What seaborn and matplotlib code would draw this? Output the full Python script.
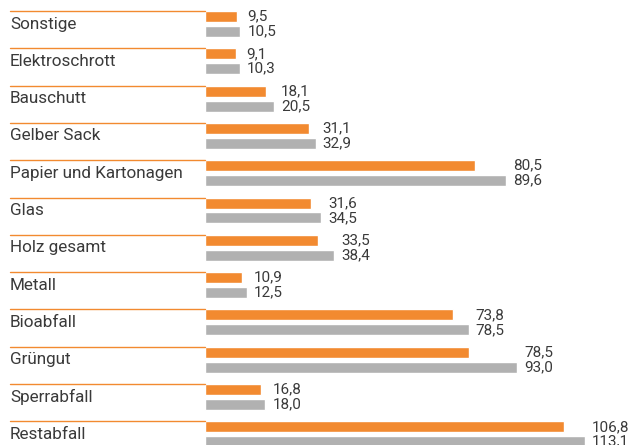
import matplotlib
matplotlib.use("Agg")
import matplotlib.pyplot as plt
import seaborn as sns
import pandas as pd

categories = ["Sonstige", "Elektroschrott", "Bauschutt", "Gelber Sack",
              "Papier und Kartonagen", "Glas", "Holz gesamt", "Metall",
              "Bioabfall", "Grüngut", "Sperrabfall", "Restabfall"]
values_orange = [9.5, 9.1, 18.1, 31.1, 80.5, 31.6, 33.5, 10.9, 73.8, 78.5, 16.8, 106.8]
values_gray = [10.5, 10.3, 20.5, 32.9, 89.6, 34.5, 38.4, 12.5, 78.5, 93.0, 18.0, 113.1]
series = ["Serie 1", "Serie 2"]
colors = ["#F28A30", "#B1B1B1"]

sns.set_theme(style="white")
plt.rcParams["font.family"] = ["Roboto", "DejaVu Sans"]
text_color = "#3a3a3a"

df = pd.DataFrame({
    "Kategorie": categories * 2,
    "Wert": values_orange + values_gray,
    "Serie": [series[0]] * len(categories) + [series[1]] * len(categories),
})

W, H = 632, 445
fig = plt.figure(figsize=(W / 100, H / 100), dpi=100)
x0 = 205
ax = fig.add_axes([x0 / W, 0, 1 - x0 / W, 1])
sns.barplot(data=df, y="Kategorie", x="Wert", hue="Serie", order=categories,
            hue_order=series, palette=colors, width=0.8, gap=0.26,
            orient="h", ax=ax, legend=False, saturation=1)

ppu_y = 37.3
ax.set_ylim((H - 24) / ppu_y, -24 / ppu_y)
ax.set_xlim(0, (W - x0) / 3.36)
for s in ax.spines.values():
    s.set_visible(False)
ax.set_xticks([])
ax.set_yticks([])
ax.set_xlabel("")
ax.set_ylabel("")

left = (10 - x0) / (W - x0)
tr = ax.get_yaxis_transform()
for i, cat in enumerate(categories):
    ytop = i - 0.348
    ax.plot([left, 0], [ytop, ytop], transform=tr, color="#F28A30",
            lw=1.0, clip_on=False)
    ax.text(left, i, cat, transform=tr, va="center", ha="left",
            fontsize=12.3, color=text_color, clip_on=False)

for i in range(len(categories)):
    xlab = max(values_orange[i], values_gray[i]) + 7 / 3.36
    for c, vals in zip(ax.containers, [values_orange, values_gray]):
        p = c.patches[i]
        yc = p.get_y() + p.get_height() / 2
        ax.text(xlab, yc, f"{vals[i]:.1f}".replace(".", ","), va="center",
                ha="left", fontsize=11, color=text_color, clip_on=False)

fig.savefig("out.png", dpi=100)
